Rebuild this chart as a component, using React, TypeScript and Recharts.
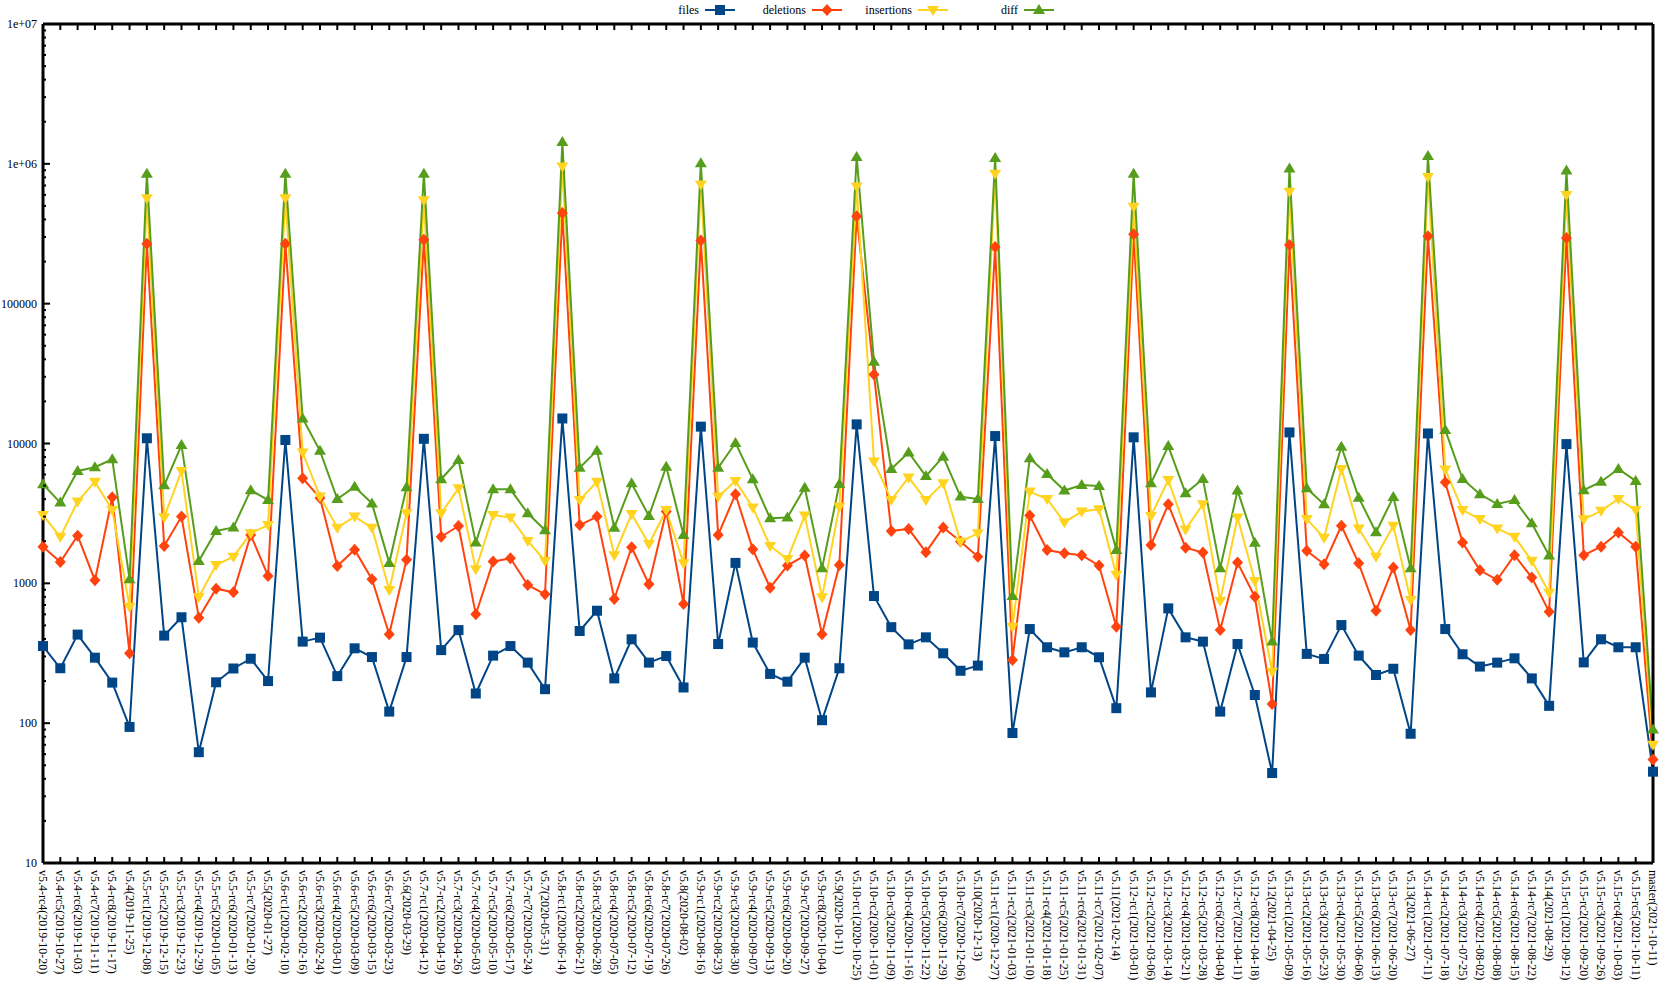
import React from 'react';
import { Line, LineChart, XAxis, YAxis } from 'recharts';

const releases = [
  'v5.4-rc4(2019-10-20)', 'v5.4-rc5(2019-10-27)', 'v5.4-rc6(2019-11-03)', 'v5.4-rc7(2019-11-11)',
  'v5.4-rc8(2019-11-17)', 'v5.4(2019-11-25)', 'v5.5-rc1(2019-12-08)', 'v5.5-rc2(2019-12-15)',
  'v5.5-rc3(2019-12-23)', 'v5.5-rc4(2019-12-29)', 'v5.5-rc5(2020-01-05)', 'v5.5-rc6(2020-01-13)',
  'v5.5-rc7(2020-01-20)', 'v5.5(2020-01-27)', 'v5.6-rc1(2020-02-10)', 'v5.6-rc2(2020-02-16)',
  'v5.6-rc3(2020-02-24)', 'v5.6-rc4(2020-03-01)', 'v5.6-rc5(2020-03-09)', 'v5.6-rc6(2020-03-15)',
  'v5.6-rc7(2020-03-23)', 'v5.6(2020-03-29)', 'v5.7-rc1(2020-04-12)', 'v5.7-rc2(2020-04-19)',
  'v5.7-rc3(2020-04-26)', 'v5.7-rc4(2020-05-03)', 'v5.7-rc5(2020-05-10)', 'v5.7-rc6(2020-05-17)',
  'v5.7-rc7(2020-05-24)', 'v5.7(2020-05-31)', 'v5.8-rc1(2020-06-14)', 'v5.8-rc2(2020-06-21)',
  'v5.8-rc3(2020-06-28)', 'v5.8-rc4(2020-07-05)', 'v5.8-rc5(2020-07-12)', 'v5.8-rc6(2020-07-19)',
  'v5.8-rc7(2020-07-26)', 'v5.8(2020-08-02)', 'v5.9-rc1(2020-08-16)', 'v5.9-rc2(2020-08-23)',
  'v5.9-rc3(2020-08-30)', 'v5.9-rc4(2020-09-07)', 'v5.9-rc5(2020-09-13)', 'v5.9-rc6(2020-09-20)',
  'v5.9-rc7(2020-09-27)', 'v5.9-rc8(2020-10-04)', 'v5.9(2020-10-11)', 'v5.10-rc1(2020-10-25)',
  'v5.10-rc2(2020-11-01)', 'v5.10-rc3(2020-11-09)', 'v5.10-rc4(2020-11-16)', 'v5.10-rc5(2020-11-22)',
  'v5.10-rc6(2020-11-29)', 'v5.10-rc7(2020-12-06)', 'v5.10(2020-12-13)', 'v5.11-rc1(2020-12-27)',
  'v5.11-rc2(2021-01-03)', 'v5.11-rc3(2021-01-10)', 'v5.11-rc4(2021-01-18)', 'v5.11-rc5(2021-01-25)',
  'v5.11-rc6(2021-01-31)', 'v5.11-rc7(2021-02-07)', 'v5.11(2021-02-14)', 'v5.12-rc1(2021-03-01)',
  'v5.12-rc2(2021-03-06)', 'v5.12-rc3(2021-03-14)', 'v5.12-rc4(2021-03-21)', 'v5.12-rc5(2021-03-28)',
  'v5.12-rc6(2021-04-04)', 'v5.12-rc7(2021-04-11)', 'v5.12-rc8(2021-04-18)', 'v5.12(2021-04-25)',
  'v5.13-rc1(2021-05-09)', 'v5.13-rc2(2021-05-16)', 'v5.13-rc3(2021-05-23)', 'v5.13-rc4(2021-05-30)',
  'v5.13-rc5(2021-06-06)', 'v5.13-rc6(2021-06-13)', 'v5.13-rc7(2021-06-20)', 'v5.13(2021-06-27)',
  'v5.14-rc1(2021-07-11)', 'v5.14-rc2(2021-07-18)', 'v5.14-rc3(2021-07-25)', 'v5.14-rc4(2021-08-02)',
  'v5.14-rc5(2021-08-08)', 'v5.14-rc6(2021-08-15)', 'v5.14-rc7(2021-08-22)', 'v5.14(2021-08-29)',
  'v5.15-rc1(2021-09-12)', 'v5.15-rc2(2021-09-20)', 'v5.15-rc3(2021-09-26)', 'v5.15-rc4(2021-10-03)',
  'v5.15-rc5(2021-10-11)', 'master(2021-10-11)',
];

const files = [
  356, 247, 430, 294, 195, 94, 10900, 423, 572, 62,
  196, 246, 289, 200, 10600, 383, 409, 217, 343, 297,
  121, 297, 10800, 333, 463, 163, 304, 356, 271, 175,
  15100, 456, 637, 209, 398, 271, 302, 180, 13200, 368,
  1400, 377, 225, 198, 294, 105, 247, 13700, 811, 486,
  366, 411, 316, 237, 258, 11300, 85, 471, 349, 321,
  349, 296, 128, 11070, 166, 662, 411, 383, 121, 368,
  159, 44, 12000, 313, 288, 503, 304, 221, 245, 84,
  11800, 471, 311, 254, 271, 291, 209, 133, 9900, 272,
  398, 349, 349, 45,
];

const deletions = [
  1830, 1420, 2190, 1050, 4120, 316, 268000, 1850, 3000, 568,
  916, 863, 2220, 1130, 268000, 5640, 4080, 1330, 1740, 1070,
  432, 1475, 287000, 2150, 2570, 600, 1430, 1510, 973, 835,
  445000, 2610, 3000, 773, 1810, 985, 3260, 711, 283000, 2220,
  4340, 1750, 930, 1340, 1580, 432, 1350, 422000, 31200, 2370,
  2450, 1670, 2510, 1990, 1550, 254000, 283, 3050, 1730, 1640,
  1590, 1340, 490, 313000, 1880, 3670, 1800, 1660, 463, 1410,
  801, 137, 263000, 1710, 1370, 2580, 1390, 637, 1300, 463,
  303000, 5280, 1960, 1240, 1060, 1590, 1100, 627, 295000, 1590,
  1830, 2310, 1830, 55,
];

const insertions = [
  3080, 2150, 3840, 5330, 3340, 680, 568000, 2970, 6360, 800,
  1350, 1550, 2280, 2610, 568000, 8620, 4170, 2500, 3000, 2500,
  896, 3170, 548000, 3170, 4780, 1260, 3080, 2960, 2010, 1445,
  959000, 3940, 5330, 1590, 3130, 1910, 3340, 1390, 713000, 4170,
  5400, 3490, 1850, 1490, 3050, 794, 3530, 689000, 7420, 3940,
  5720, 3940, 5190, 1990, 2280, 849000, 490, 4530, 4010, 2730,
  3260, 3390, 1150, 494000, 3030, 5480, 2430, 3670, 752, 2960,
  1040, 233, 631000, 2880, 2120, 6580, 2470, 1550, 2580, 760,
  806000, 6530, 3340, 2880, 2470, 2150, 1450, 857, 598000, 2870,
  3300, 4010, 3340, 70,
];

const diff = [
  5110, 3780, 6360, 6760, 7710, 1070, 849000, 5020, 9750, 1445,
  2370, 2510, 4640, 3940, 850000, 15100, 8860, 4010, 4900, 3730,
  1400, 4860, 849000, 5550, 7620, 1960, 4700, 4700, 3170, 2400,
  1430000, 6710, 8890, 2500, 5190, 3030, 6830, 2220, 1010000, 6710,
  10100, 5550, 2920, 2960, 4830, 1280, 5130, 1120000, 38500, 6580,
  8620, 5850, 8050, 4170, 4010, 1100000, 811, 7830, 6060, 4610,
  5050, 4970, 1730, 849000, 5190, 9590, 4400, 5570, 1280, 4610,
  1950, 383, 927000, 4780, 3670, 9480, 4100, 2320, 4140, 1280,
  1140000, 12500, 5570, 4340, 3690, 3940, 2690, 1580, 895000, 4640,
  5330, 6580, 5400, 90,
];

const data = releases.map((name, i) => ({
  name,
  files: files[i],
  deletions: deletions[i],
  insertions: insertions[i],
  diff: diff[i],
}));

type Shape = 'square' | 'diamond' | 'up' | 'down';

const series: { key: string; color: string; shape: Shape; legendX: number }[] = [
  { key: 'files', color: '#004586', shape: 'square', legendX: 720 },
  { key: 'deletions', color: '#ff420e', shape: 'diamond', legendX: 827 },
  { key: 'insertions', color: '#ffd320', shape: 'down', legendX: 933 },
  { key: 'diff', color: '#579d1c', shape: 'up', legendX: 1039 },
];

// log ticks: majors at each decade, minors at 2..9
const yTicks: number[] = [];
for (let d = 1; d < 7; d++) {
  for (let m = 1; m < 10; m++) yTicks.push(m * Math.pow(10, d));
}
yTicks.push(1e7);

const FONT = '"Liberation Serif", "DejaVu Serif", serif';

const isMajor = (v: number) => {
  const l = Math.log10(v);
  return Math.abs(l - Math.round(l)) < 1e-9;
};

const fmt = (v: number) =>
  v >= 1e6 ? v.toExponential(0).replace(/e\+(\d)$/, 'e+0$1') : String(v);

function marker(shape: Shape, cx: number, cy: number, color: string) {
  switch (shape) {
    case 'square':
      return <rect x={cx - 5} y={cy - 5} width={10} height={10} fill={color} />;
    case 'diamond':
      return (
        <polygon
          points={`${cx},${cy - 6} ${cx + 5.5},${cy} ${cx},${cy + 6} ${cx - 5.5},${cy}`}
          fill={color}
        />
      );
    case 'up':
      return (
        <polygon
          points={`${cx},${cy - 6} ${cx + 6},${cy + 4} ${cx - 6},${cy + 4}`}
          fill={color}
        />
      );
    default:
      return (
        <polygon
          points={`${cx - 6},${cy - 4} ${cx + 6},${cy - 4} ${cx},${cy + 6}`}
          fill={color}
        />
      );
  }
}

const LeftTick = (props: any) => {
  const x = Number(props.x);
  const y = Number(props.y);
  const v = props.payload.value;
  const major = isMajor(v);
  return (
    <g>
      <line x1={x} y1={y} x2={x + (major ? 7 : 3)} y2={y} stroke="#000" strokeWidth={2} />
      {major && (
        <text
          x={x - 6}
          y={y}
          textAnchor="end"
          dominantBaseline="central"
          fontSize={12}
          fontFamily={FONT}
          fill="#000"
        >
          {fmt(v)}
        </text>
      )}
    </g>
  );
};

const RightTick = (props: any) => {
  const x = Number(props.x);
  const y = Number(props.y);
  const major = isMajor(props.payload.value);
  return (
    <line x1={x} y1={y} x2={x - (major ? 7 : 3)} y2={y} stroke="#000" strokeWidth={2} />
  );
};

const BottomTick = (props: any) => {
  const x = Number(props.x);
  const y = Number(props.y);
  return (
    <g>
      <line x1={x} y1={y} x2={x} y2={y - 6} stroke="#000" strokeWidth={2} />
      <text
        x={x}
        y={y + 7}
        transform={`rotate(90, ${x}, ${y + 7})`}
        textAnchor="start"
        dominantBaseline="central"
        fontSize={12}
        fontFamily={FONT}
        fill="#000"
      >
        {props.payload.value}
      </text>
    </g>
  );
};

const TopTick = (props: any) => {
  const x = Number(props.x);
  const y = Number(props.y);
  return <line x1={x} y1={y} x2={x} y2={y + 6} stroke="#000" strokeWidth={2} />;
};

const Legend = () => (
  <svg
    width={1666}
    height={22}
    style={{ position: 'absolute', left: 0, top: 0, pointerEvents: 'none' }}
  >
    {series.map((s) => (
      <g key={s.key}>
        <text
          x={s.legendX - 21}
          y={10}
          textAnchor="end"
          dominantBaseline="central"
          fontSize={12}
          fontFamily={FONT}
          fill="#000"
        >
          {s.key}
        </text>
        <line x1={s.legendX - 15} y1={10} x2={s.legendX + 15} y2={10} stroke={s.color} strokeWidth={2} />
        {marker(s.shape, s.legendX, 10, s.color)}
      </g>
    ))}
  </svg>
);

const axisLine = { stroke: '#000', strokeWidth: 3 };

const App = () => {
  return (
    <div
      style={{
        position: 'absolute',
        left: 0,
        top: 0,
        width: 1666,
        height: 997,
        background: '#fff',
      }}
    >
      <LineChart
        width={1666}
        height={997}
        data={data}
        margin={{ top: 22, right: 0, bottom: 0, left: 0 }}
      >
        <XAxis
          dataKey="name"
          height={134}
          interval={0}
          tickSize={0}
          tickMargin={0}
          tickLine={false}
          axisLine={axisLine}
          tick={BottomTick}
        />
        <XAxis
          xAxisId="top"
          orientation="top"
          dataKey="name"
          height={2}
          interval={0}
          tickSize={0}
          tickMargin={0}
          tickLine={false}
          axisLine={axisLine}
          tick={TopTick}
        />
        <YAxis
          yAxisId="left"
          width={43}
          scale="log"
          domain={[10, 1e7]}
          ticks={yTicks}
          interval={0}
          tickSize={0}
          tickMargin={0}
          tickLine={false}
          axisLine={axisLine}
          tick={LeftTick}
        />
        <YAxis
          yAxisId="right"
          orientation="right"
          width={13}
          scale="log"
          domain={[10, 1e7]}
          ticks={yTicks}
          interval={0}
          tickSize={0}
          tickMargin={0}
          tickLine={false}
          axisLine={axisLine}
          tick={RightTick}
        />
        {series.map((s) => (
          <Line
            key={s.key}
            yAxisId="left"
            type="linear"
            dataKey={s.key}
            stroke={s.color}
            strokeWidth={2}
            isAnimationActive={false}
            activeDot={false}
            dot={(p: any) => <g key={p.index}>{marker(s.shape, p.cx, p.cy, s.color)}</g>}
          />
        ))}
      </LineChart>
      <Legend />
    </div>
  );
};

export default App;
